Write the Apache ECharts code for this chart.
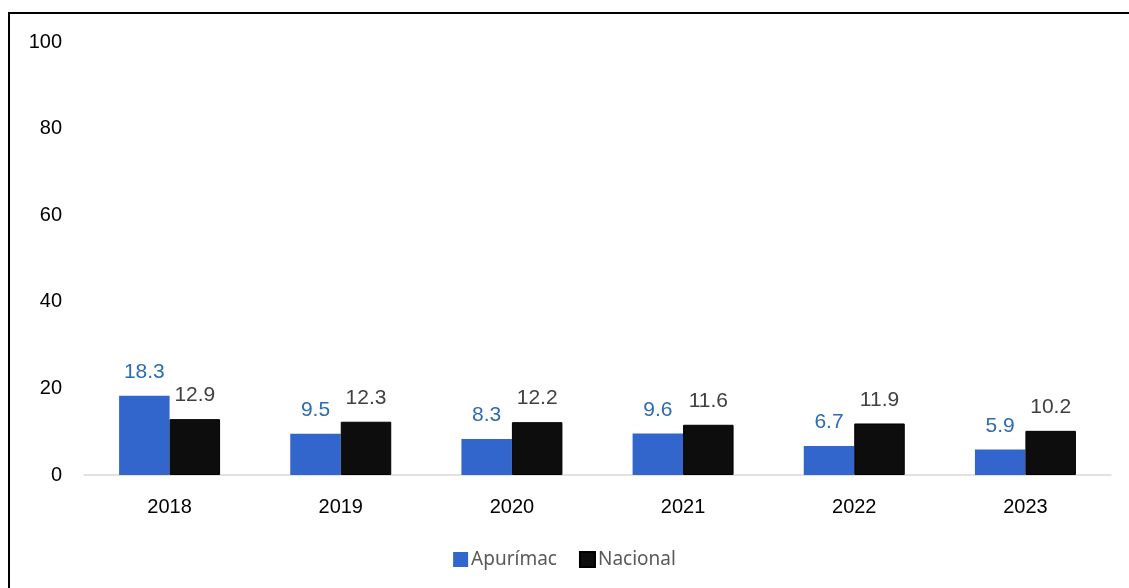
<!DOCTYPE html>
<html>
<head>
<meta charset="utf-8">
<script src="https://cdn.jsdelivr.net/npm/echarts@6/dist/echarts.min.js"></script>
<style>
  html, body { margin: 0; padding: 0; background: #fff; overflow: hidden; }
  #frame { position: absolute; left: 8px; top: 12px; width: 1200px; height: 700px; border: 2px solid #000; box-sizing: border-box; }
  #chart { position: absolute; left: 0; top: 0; width: 1129px; height: 588px; }
</style>
</head>
<body>
<div id="frame"></div>
<div id="chart"></div>
<script>
const years = ['2018', '2019', '2020', '2021', '2022', '2023'];
const apurimac = [18.3, 9.5, 8.3, 9.6, 6.7, 5.9];
const nacional = [12.9, 12.3, 12.2, 11.6, 11.9, 10.2];

const chart = echarts.init(document.getElementById('chart'));

const option = {
    animation: false,
    grid: { left: 84, right: 18, top: 42, bottom: 113 },
    legend: {
        bottom: 14,
        left: 'center',
        itemWidth: 15,
        itemHeight: 15,
        itemGap: 22,
        icon: 'rect',
        textStyle: { fontFamily: 'Noto Sans', fontSize: 19, color: '#595959', padding: [0, 0, 0, -2] },
        data: ['Apurímac', 'Nacional']
    },
    xAxis: {
        type: 'category',
        data: years,
        axisLine: { lineStyle: { color: '#d9d9d9', width: 1.5 } },
        axisTick: { show: false },
        axisLabel: { color: '#000', fontFamily: 'Liberation Sans', fontSize: 20, margin: 22 }
    },
    yAxis: {
        type: 'value',
        min: 0,
        max: 100,
        interval: 20,
        splitLine: { show: false },
        axisLine: { show: false },
        axisTick: { show: false },
        axisLabel: { color: '#000', fontFamily: 'Liberation Sans', fontSize: 20, margin: 22 }
    },
    series: [
        {
            name: 'Apurímac',
            type: 'bar',
            data: apurimac,
            barGap: '0%',
            barCategoryGap: '41%',
            itemStyle: { color: '#3366CC' },
            label: {
                show: true,
                position: 'top',
                distance: 13,
                color: '#2E6CB0',
                fontFamily: 'Liberation Sans',
                fontSize: 21
            }
        },
        {
            name: 'Nacional',
            type: 'bar',
            data: nacional,
            itemStyle: { color: '#0D0D0D', borderColor: '#000', borderWidth: 1 },
            label: {
                show: true,
                position: 'top',
                distance: 13,
                color: '#404040',
                fontFamily: 'Liberation Sans',
                fontSize: 21
            }
        }
    ]
};
chart.setOption(option);
</script>
</body>
</html>
